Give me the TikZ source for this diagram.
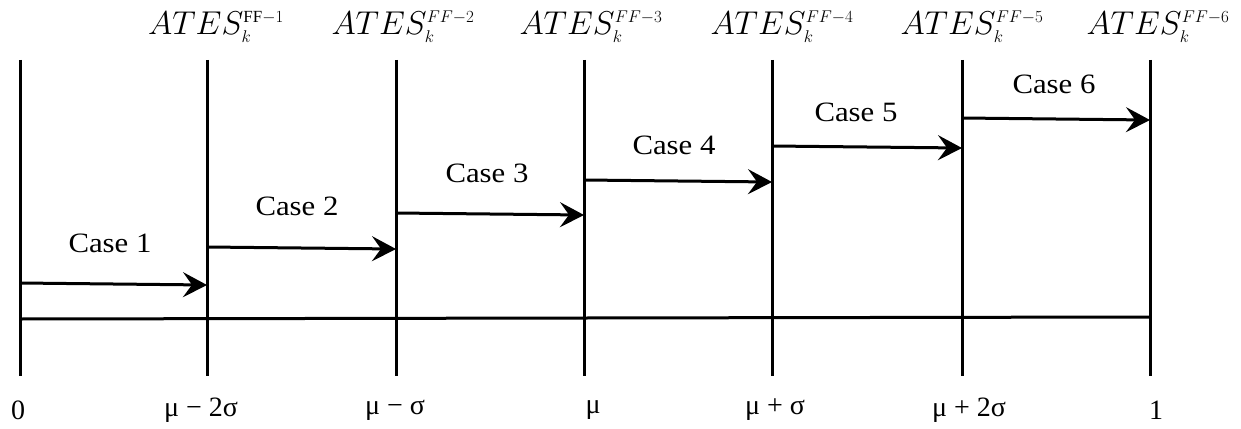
\RequirePackage{fix-cm}
\documentclass[tikz,border=0pt]{standalone}
\usepackage{fontspec}
\setmainfont{LiberationSerif}[Extension=.ttf,UprightFont=*-Regular,ItalicFont=*-Italic,BoldFont=*-Bold,BoldItalicFont=*-BoldItalic]
\newfontfamily\casefont{LiberationSerif}[Extension=.ttf,UprightFont=*-Regular,FakeStretch=1.1]
\DeclareMathSizes{33}{33}{17}{12}
\usetikzlibrary{arrows.meta}
\tikzset{
  bar/.style={line width=3pt},
  casearrow/.style={line width=3pt,-{Stealth[length=24pt,width=25pt,inset=9pt]}},
  caselabel/.style={font=\fontsize{28}{32}\selectfont\casefont,inner sep=0pt},
  toplabel/.style={font=\fontsize{33}{37}\selectfont,inner sep=0pt},
  botlabel/.style={font=\fontsize{28}{32}\selectfont,inner sep=0pt}
}
\begin{document}
\begin{tikzpicture}[x=1pt,y=-1pt]
\useasboundingbox (0,0) rectangle (1241,428);
% vertical bars
\foreach \n/\x in {0/20,1/207,2/396,3/584,4/772,5/962,6/1150}{
  \coordinate (t\n) at (\x,60);
  \coordinate (b\n) at (\x,376);
  \draw[bar] (t\n) -- (b\n);
}
% horizontal base line
\coordinate (hl) at (20,319);
\coordinate (hr) at (1150,317);
\draw[bar] (hl) -- (hr);
% case arrows
\coordinate (s1) at (20,283);  \coordinate (e1) at (207,285);
\coordinate (s2) at (207,247); \coordinate (e2) at (396,249);
\coordinate (s3) at (396,213); \coordinate (e3) at (584,215);
\coordinate (s4) at (584,180); \coordinate (e4) at (772,182);
\coordinate (s5) at (772,146); \coordinate (e5) at (962,148);
\coordinate (s6) at (962,118); \coordinate (e6) at (1150,120);
\foreach \i in {1,...,6}{ \draw[casearrow] (s\i) -- (e\i); }
% case labels
\node[caselabel] (c1) at (110,243) {Case 1};
\node[caselabel] (c2) at (297,206) {Case 2};
\node[caselabel] (c3) at (487,173) {Case 3};
\node[caselabel] (c4) at (674,145) {Case 4};
\node[caselabel] (c5) at (856,112) {Case 5};
\node[caselabel] (c6) at (1054,84) {Case 6};
% top labels
\node[toplabel] (a1) at (216,27) {$ATES_k^{\mathrm{FF}-1}$};
\node[toplabel] (a2) at (403,27) {$ATES_k^{FF-2}$};
\node[toplabel] (a3) at (591,27) {$ATES_k^{FF-3}$};
\node[toplabel] (a4) at (782,27) {$ATES_k^{FF-4}$};
\node[toplabel] (a5) at (972,27) {$ATES_k^{FF-5}$};
\node[toplabel] (a6) at (1158,27) {$ATES_k^{FF-6}$};
% bottom labels
\node[botlabel] (l0) at (18,410) {0};
\node[botlabel] (l1) at (201,410) {μ − 2σ};
\node[botlabel] (l2) at (395,410) {μ − σ};
\node[botlabel] (l3) at (593,410) {μ};
\node[botlabel] (l4) at (775,410) {μ + σ};
\node[botlabel] (l5) at (969,410) {μ + 2σ};
\node[botlabel] (l6) at (1156,410) {1};
\end{tikzpicture}
\end{document}
